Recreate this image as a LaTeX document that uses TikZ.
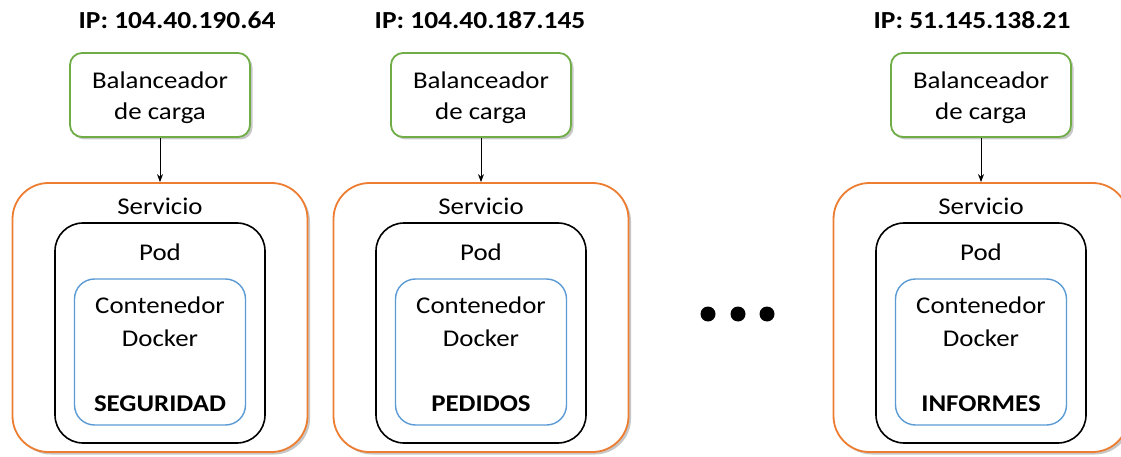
\documentclass[tikz,border=0pt]{standalone}
\usepackage{graphicx}
\usepackage{fontspec}
\setmainfont{Carlito}
\usetikzlibrary{arrows.meta,shadows}
\definecolor{cgreen}{HTML}{70AD47}
\definecolor{corange}{HTML}{ED7D31}
\definecolor{cblue}{HTML}{5B9BD5}
\newcommand\wtxt[1]{\scalebox{1.12}[1]{#1}}
\tikzset{
  boxbase/.style={rectangle, inner sep=0pt, fill=white,
    drop shadow={shadow xshift=2.5pt, shadow yshift=-2.5pt, opacity=0.22, fill=black}},
  balbox/.style={boxbase, draw=cgreen, line width=1.8pt, rounded corners=12pt,
    minimum width=180pt, minimum height=84pt},
  servbox/.style={boxbase, draw=corange, line width=1.8pt, rounded corners=36pt,
    minimum width=295pt, minimum height=269pt},
  podbox/.style={rectangle, inner sep=0pt, draw=black, line width=1.6pt, rounded corners=28pt,
    minimum width=210pt, minimum height=220pt},
  contbox/.style={rectangle, inner sep=0pt, draw=cblue, line width=1.4pt, rounded corners=20pt,
    minimum width=171pt, minimum height=146pt},
  txt/.style={inner sep=0pt, font=\fontsize{24}{28}\selectfont},
  boldtxt/.style={inner sep=0pt, font=\fontsize{24}{28}\selectfont\bfseries},
  iptxt/.style={inner sep=0pt, font=\fontsize{24.5}{28}\selectfont\bfseries},
  conn/.style={-{Stealth[length=8pt,width=6pt]}, line width=0.8pt, black},
  dot/.style={circle, fill=black, inner sep=0pt, minimum size=15pt}
}
\begin{document}
\begin{tikzpicture}[x=1pt,y=-1pt]
\useasboundingbox (0,0) rectangle (1121,457);
\clip (0,0) rectangle (1121,457);
\foreach \i/\cx/\ipx/\ip/\app in {1/160/177/104.40.190.64/SEGURIDAD, 2/481/480/104.40.187.145/PEDIDOS, 3/981/972/51.145.138.21/INFORMES}{
  \node[iptxt] (ip\i) at (\ipx,20) {\wtxt{IP: \ip}};
  \node[balbox] (bal\i) at (\cx,95) {};
  \node[txt] (balA\i) at (\cx,80) {\wtxt{Balanceador}};
  \node[txt] (balB\i) at (\cx,113) {\wtxt{de carga}};
  \node[servbox] (serv\i) at (\cx,317.5) {};
  \node[txt] (servt\i) at (\cx,206) {\wtxt{Servicio}};
  \node[podbox] (pod\i) at (\cx,333) {};
  \node[txt] (podt\i) at (\cx,252) {\wtxt{Pod}};
  \node[contbox] (cont\i) at (\cx,352) {};
  \node[txt] (contA\i) at (\cx,305) {\wtxt{Contenedor}};
  \node[txt] (contB\i) at (\cx,338) {\wtxt{Docker}};
  \node[boldtxt] (app\i) at (\cx,404) {\wtxt{\app}};
  \draw[conn] (bal\i.south) -- (serv\i.north);
}
\node[dot] (d1) at (708,314) {};
\node[dot] (d2) at (738,314) {};
\node[dot] (d3) at (767,314) {};
\end{tikzpicture}
\end{document}
